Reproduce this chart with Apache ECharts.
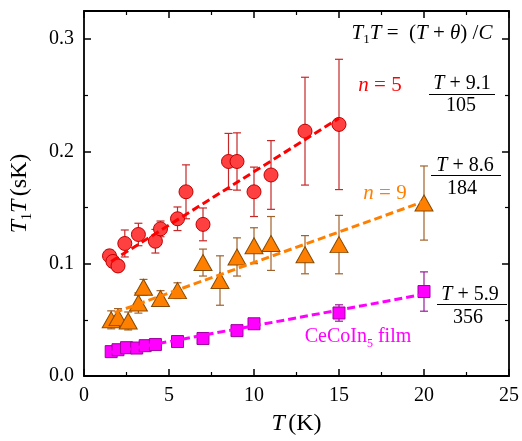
<!DOCTYPE html>
<html><head><meta charset="utf-8">
<script src="https://cdn.jsdelivr.net/npm/echarts@6/dist/echarts.min.js"></script>
<style>html,body{margin:0;padding:0;background:#fff}#c{width:522px;height:441px}</style>
</head><body><div id="c"></div>
<script>
// n = 5
const T5 = [1.5,1.7,2.0,2.4,3.2,4.2,4.5,5.5,6.0,7.0,8.5,9.0,10.0,11.0,13.0,15.0];
const Y5 = [0.107,0.102,0.098,0.118,0.126,0.120,0.131,0.140,0.164,0.135,0.191,0.191,0.164,0.179,0.218,0.224];
const E5 = [0.005,0.005,0.005,0.012,0.010,0.0105,0.007,0.0105,0.024,0.0146,0.025,0.0255,0.022,0.0306,0.048,0.058];
// n = 9
const T9 = [1.6,2.0,2.6,3.2,3.5,4.5,5.5,7.0,8.0,9.0,10.0,11.0,13.0,15.0,20.0];
const Y9 = [0.050,0.052,0.049,0.065,0.079,0.069,0.076,0.101,0.085,0.106,0.116,0.118,0.108,0.117,0.154];
const E9 = [0.008,0.008,0.008,0.009,0.007,0.007,0.007,0.012,0.022,0.017,0.016,0.024,0.017,0.026,0.033];
// CeCoIn5 film
const TF = [1.6,2.0,2.5,3.1,3.6,4.2,5.5,7.0,9.0,10.0,15.0,20.0];
const YF = [0.0217,0.0234,0.0252,0.0249,0.027,0.028,0.0307,0.0334,0.0404,0.0465,0.0561,0.0752];
const EF = [0.002,0.002,0.002,0.002,0.002,0.002,0.002,0.002,0.002,0.003,0.0073,0.0175];
// fit lines (endpoints)
const FIT5 = [[1.6,0.102],[15,0.2295]];
const FIT9 = [[1.8,0.0565],[20,0.1554]];
const FITF = [[1.6,0.0211],[20,0.0728]];
// ticks
const X_TICKS = [0,5,10,15,20,25];
const Y_TICKS = [0.0,0.1,0.2,0.3];

const FONT = 'Liberation Serif';
const zip = (t,y,e)=> t.map((v,i)=> e ? [v,y[i],e[i]] : [v,y[i]]);

function errBar(color){
  return function(params, api){
    const x = api.value(0), y = api.value(1), e = api.value(2);
    const hi = api.coord([x, y+e]), lo = api.coord([x, y-e]);
    const w = 4;
    const st = {stroke:color, lineWidth:1.2};
    return {type:'group', children:[
      {type:'line', shape:{x1:hi[0],y1:hi[1],x2:lo[0],y2:lo[1]}, style:st},
      {type:'line', shape:{x1:hi[0]-w,y1:hi[1],x2:hi[0]+w,y2:hi[1]}, style:st},
      {type:'line', shape:{x1:lo[0]-w,y1:lo[1],x2:lo[0]+w,y2:lo[1]}, style:st}
    ]};
  };
}

function gRich(color, size){
  return {
    i:{fontFamily:FONT, fontStyle:'italic', fontSize:size, fill:color},
    r:{fontFamily:FONT, fontSize:size, fill:color},
    sub:{fontFamily:FONT, fontSize:Math.round(size*0.6), fill:color, verticalAlign:'bottom', padding:[14,0,0,0]}
  };
}

const chart = echarts.init(document.getElementById('c'), null, {renderer:'canvas'});
const axisCommon = {
  axisLine:{show:true, onZero:false, lineStyle:{color:'#000', width:1.8}},
  axisTick:{show:true, inside:true, length:7, lineStyle:{color:'#000', width:1.5}},
  minorTick:{show:true, splitNumber:2, length:4, lineStyle:{color:'#000', width:1.2}},
  splitLine:{show:false}
};
const rich = {
  i:{fontFamily:FONT, fontStyle:'italic', fontSize:24, color:'#000'},
  r:{fontFamily:FONT, fontSize:24, color:'#000'},
  sub:{fontFamily:FONT, fontSize:14, color:'#000', verticalAlign:'bottom', padding:[14,0,0,0]}
};

const option = {
  animation:false,
  backgroundColor:'#fff',
  grid:{left:84, right:11, top:11, bottom:60, containLabel:false},
  xAxis:[
    Object.assign({type:'value', min:0, max:25, interval:5, position:'bottom',
      name:'{i|T} {r|(K)}', nameLocation:'middle', nameGap:36,
      nameTextStyle:{rich:rich},
      axisLabel:{fontFamily:FONT, fontSize:20, color:'#000', margin:10,
        formatter:v=> X_TICKS.includes(v) ? String(v) : ''}}, axisCommon),
    Object.assign({type:'value', min:0, max:25, interval:5, position:'top', axisLabel:{show:false}}, axisCommon)
  ],
  yAxis:[
    Object.assign({type:'value', min:0, max:0.325, interval:0.1, position:'left',
      name:'{i|T}{sub|1}{i|T} {r|(sK)}', nameLocation:'middle', nameGap:50, nameRotate:90,
      nameTextStyle:{rich:rich},
      axisLabel:{fontFamily:FONT, fontSize:20, color:'#000', margin:10, showMaxLabel:false,
        formatter:v=> Y_TICKS.some(t=>Math.abs(t-v)<1e-9) ? v.toFixed(1) : ''}}, axisCommon),
    Object.assign({type:'value', min:0, max:0.325, interval:0.1, position:'right', axisLabel:{show:false}}, axisCommon)
  ],
  series:[
    {type:'custom', renderItem:errBar('#c62828'), data:zip(T5,Y5,E5), encode:{x:0,y:1}, z:2, silent:true},
    {type:'custom', renderItem:errBar('#a0622a'), data:zip(T9,Y9,E9), encode:{x:0,y:1}, z:2, silent:true},
    {type:'custom', renderItem:errBar('#9a1a9a'), data:zip(TF,YF,EF), encode:{x:0,y:1}, z:2, silent:true},
    {type:'scatter', data:zip(T5,Y5), symbol:'circle', symbolSize:14, z:3,
      itemStyle:{color:'#ff4040', borderColor:'#c00000', borderWidth:1, opacity:1}},
    {type:'scatter', data:zip(T9,Y9), symbol:'triangle', symbolSize:[18,16], z:3,
      itemStyle:{color:'#ff8000', borderColor:'#8a4a00', borderWidth:1, opacity:1}},
    {type:'scatter', data:zip(TF,YF), symbol:'rect', symbolSize:12, z:3,
      itemStyle:{color:'#ff00ff', borderColor:'#a000a0', borderWidth:1, opacity:1}},
    {type:'line', data:FIT5, showSymbol:false, z:4, lineStyle:{color:'#ff0000', width:3, type:[8,4]}},
    {type:'line', data:FIT9, showSymbol:false, z:4, lineStyle:{color:'#ff8000', width:3, type:[8,4]}},
    {type:'line', data:FITF, showSymbol:false, z:4, lineStyle:{color:'#ff00ff', width:3, type:[8,4]}}
  ],
  graphic:[
    {type:'text', x:422, y:33, z:10, style:{text:'{i|T}{sub|1}{i|T}{r| =  (}{i|T}{r| + }{i|θ}{r|) /}{i|C}', rich:gRich('#000',21), align:'center', verticalAlign:'middle'}},
    {type:'text', x:380, y:85, z:10, style:{text:'{i|n}{r| = 5}', rich:gRich('#ff0000',21), align:'center', verticalAlign:'middle'}},
    {type:'text', x:385, y:193, z:10, style:{text:'{i|n}{r| = 9}', rich:gRich('#ff8000',21), align:'center', verticalAlign:'middle'}},
    {type:'text', x:358, y:337, z:10, style:{text:'{r|CeCoIn}{sub|5}{r| film}', rich:gRich('#ff00ff',20), align:'center', verticalAlign:'middle'}},
    // fraction n=5
    {type:'text', x:462, y:84, z:10, style:{text:'{i|T}{r| + 9.1}', rich:gRich('#000',20), align:'center', verticalAlign:'middle'}},
    {type:'line', z:10, shape:{x1:429, y1:94.5, x2:495, y2:94.5}, style:{stroke:'#000', lineWidth:1.2}},
    {type:'text', x:461, y:106, z:10, style:{text:'{r|105}', rich:gRich('#000',20), align:'center', verticalAlign:'middle'}},
    // fraction n=9
    {type:'text', x:465, y:166, z:10, style:{text:'{i|T}{r| + 8.6}', rich:gRich('#000',20), align:'center', verticalAlign:'middle'}},
    {type:'line', z:10, shape:{x1:431, y1:175.5, x2:501, y2:175.5}, style:{stroke:'#000', lineWidth:1.2}},
    {type:'text', x:462, y:189, z:10, style:{text:'{r|184}', rich:gRich('#000',20), align:'center', verticalAlign:'middle'}},
    // fraction film
    {type:'text', x:470, y:295, z:10, style:{text:'{i|T}{r| + 5.9}', rich:gRich('#000',20), align:'center', verticalAlign:'middle'}},
    {type:'line', z:10, shape:{x1:437, y1:304.5, x2:507, y2:304.5}, style:{stroke:'#000', lineWidth:1.2}},
    {type:'text', x:468, y:318, z:10, style:{text:'{r|356}', rich:gRich('#000',20), align:'center', verticalAlign:'middle'}}
  ]
};
chart.setOption(option);
</script>
</body></html>
